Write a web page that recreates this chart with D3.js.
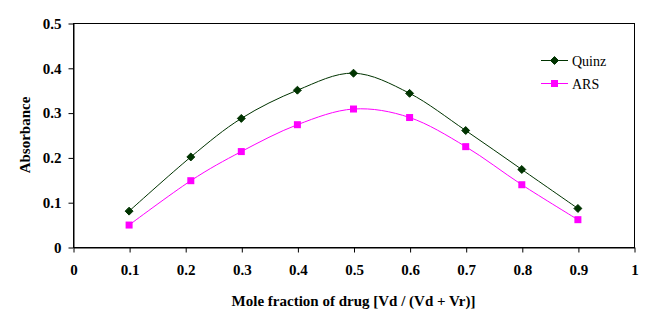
<!DOCTYPE html>
<html>
<head>
<meta charset="utf-8">
<script src="https://cdn.jsdelivr.net/npm/d3@7"></script>
<style>
  body { margin: 0; background: #fff; }
  svg { display: block; }
</style>
</head>
<body>
<svg id="chart" width="661" height="325"></svg>
<script>
const width = 661,
    height = 325;

// mole fraction of drug (x) and absorbance for each series
const moleFraction = [0.1, 0.21, 0.3, 0.4, 0.5, 0.6, 0.7, 0.8, 0.9];
const quinz = [0.08, 0.201, 0.287, 0.35, 0.388, 0.343, 0.26, 0.173, 0.086];
const ars = [0.049, 0.148, 0.213, 0.273, 0.308, 0.289, 0.224, 0.139, 0.061];
const xTicks = [0, 0.1, 0.2, 0.3, 0.4, 0.5, 0.6, 0.7, 0.8, 0.9, 1];
const yTicks = [0, 0.1, 0.2, 0.3, 0.4, 0.5];
const seriesNames = ['Quinz', 'ARS'];
const seriesColors = ['#003300', '#ff00ff'];

const margin = { top: 23, right: 27, bottom: 78, left: 73 };
const font = '"Liberation Serif", "Times New Roman", serif';

const svg = d3.select('#chart');

const x = d3.scaleLinear().domain([0, 1]).range([margin.left, width - margin.right]);
const y = d3.scaleLinear().domain([0, 0.5]).range([height - margin.bottom, margin.top]);

// plot frame
svg.append('rect')
    .attr('x', x(0) + 0.5)
    .attr('y', y(0.5) + 0.5)
    .attr('width', x(1) - x(0))
    .attr('height', y(0) - y(0.5))
    .attr('fill', 'none')
    .attr('stroke', '#000')
    .attr('stroke-width', 1);

const xAxis = svg.append('g')
    .attr('transform', `translate(0.5,${y(0) + 0.5})`)
    .call(d3.axisBottom(x).tickValues(xTicks).tickSize(5).tickSizeOuter(0).tickPadding(12)
        .tickFormat((d) => d3.format('')(d)));

const yAxis = svg.append('g')
    .attr('transform', `translate(${x(0) + 0.5},0.5)`)
    .call(d3.axisLeft(y).tickValues(yTicks).tickSize(5).tickSizeOuter(0).tickPadding(7)
        .tickFormat((d) => d3.format('')(d)));

[xAxis, yAxis].forEach((g) => {
    g.select('.domain').attr('stroke', '#000');
    g.selectAll('.tick line').attr('stroke', '#000');
    g.selectAll('.tick text')
        .attr('fill', '#000')
        .style('font-family', font)
        .style('font-size', '15px')
        .style('font-weight', 'bold');
});

// axis titles
svg.append('text')
    .attr('x', x(0.5))
    .attr('y', 306)
    .attr('text-anchor', 'middle')
    .style('font-family', font)
    .style('font-size', '15px')
    .style('font-weight', 'bold')
    .text('Mole fraction of drug [Vd / (Vd + Vr)]');

svg.append('text')
    .attr('transform', `translate(30,${y(0.25)}) rotate(-90)`)
    .attr('text-anchor', 'middle')
    .style('font-family', font)
    .style('font-size', '15px')
    .style('font-weight', 'bold')
    .text('Absorbance');

// smoothed lines, the same smoothing a spreadsheet "smoothed line" uses
const line = d3.line()
    .x((d) => x(d[0]))
    .y((d) => y(d[1]))
    .curve(d3.curveCardinal.tension(0));

const series = [quinz, ars].map((vals, i) => ({
    name: seriesNames[i],
    color: seriesColors[i],
    points: moleFraction.map((m, j) => [m, vals[j]]),
}));

const diamond = d3.symbol().type(d3.symbolDiamond2).size(40);

function drawMarker(g, s, px, py) {
    if (s.name === 'Quinz') {
        g.append('path')
            .attr('d', diamond())
            .attr('transform', `translate(${px},${py})`)
            .attr('fill', s.color)
            .attr('stroke', s.color)
            .attr('stroke-width', 1);
    } else {
        g.append('rect')
            .attr('x', px - 3.5)
            .attr('y', py - 3.5)
            .attr('width', 7)
            .attr('height', 7)
            .attr('fill', s.color);
    }
}

series.forEach((s) => {
    svg.append('path')
        .datum(s.points)
        .attr('d', line)
        .attr('fill', 'none')
        .attr('stroke', s.color)
        .attr('stroke-width', 1);

    const g = svg.append('g');
    s.points.forEach((p) => drawMarker(g, s, x(p[0]), y(p[1])));
});

// legend
const legend = svg.append('g');
series.forEach((s, i) => {
    const ly = 60.5 + i * 23;
    legend.append('line')
        .attr('x1', 541)
        .attr('x2', 568)
        .attr('y1', ly)
        .attr('y2', ly)
        .attr('stroke', s.color)
        .attr('stroke-width', 1);
    drawMarker(legend, s, 554.5, ly);
    legend.append('text')
        .attr('x', 572)
        .attr('y', ly + 5)
        .style('font-family', font)
        .style('font-size', '14px')
        .text(s.name);
});
</script>
</body>
</html>
